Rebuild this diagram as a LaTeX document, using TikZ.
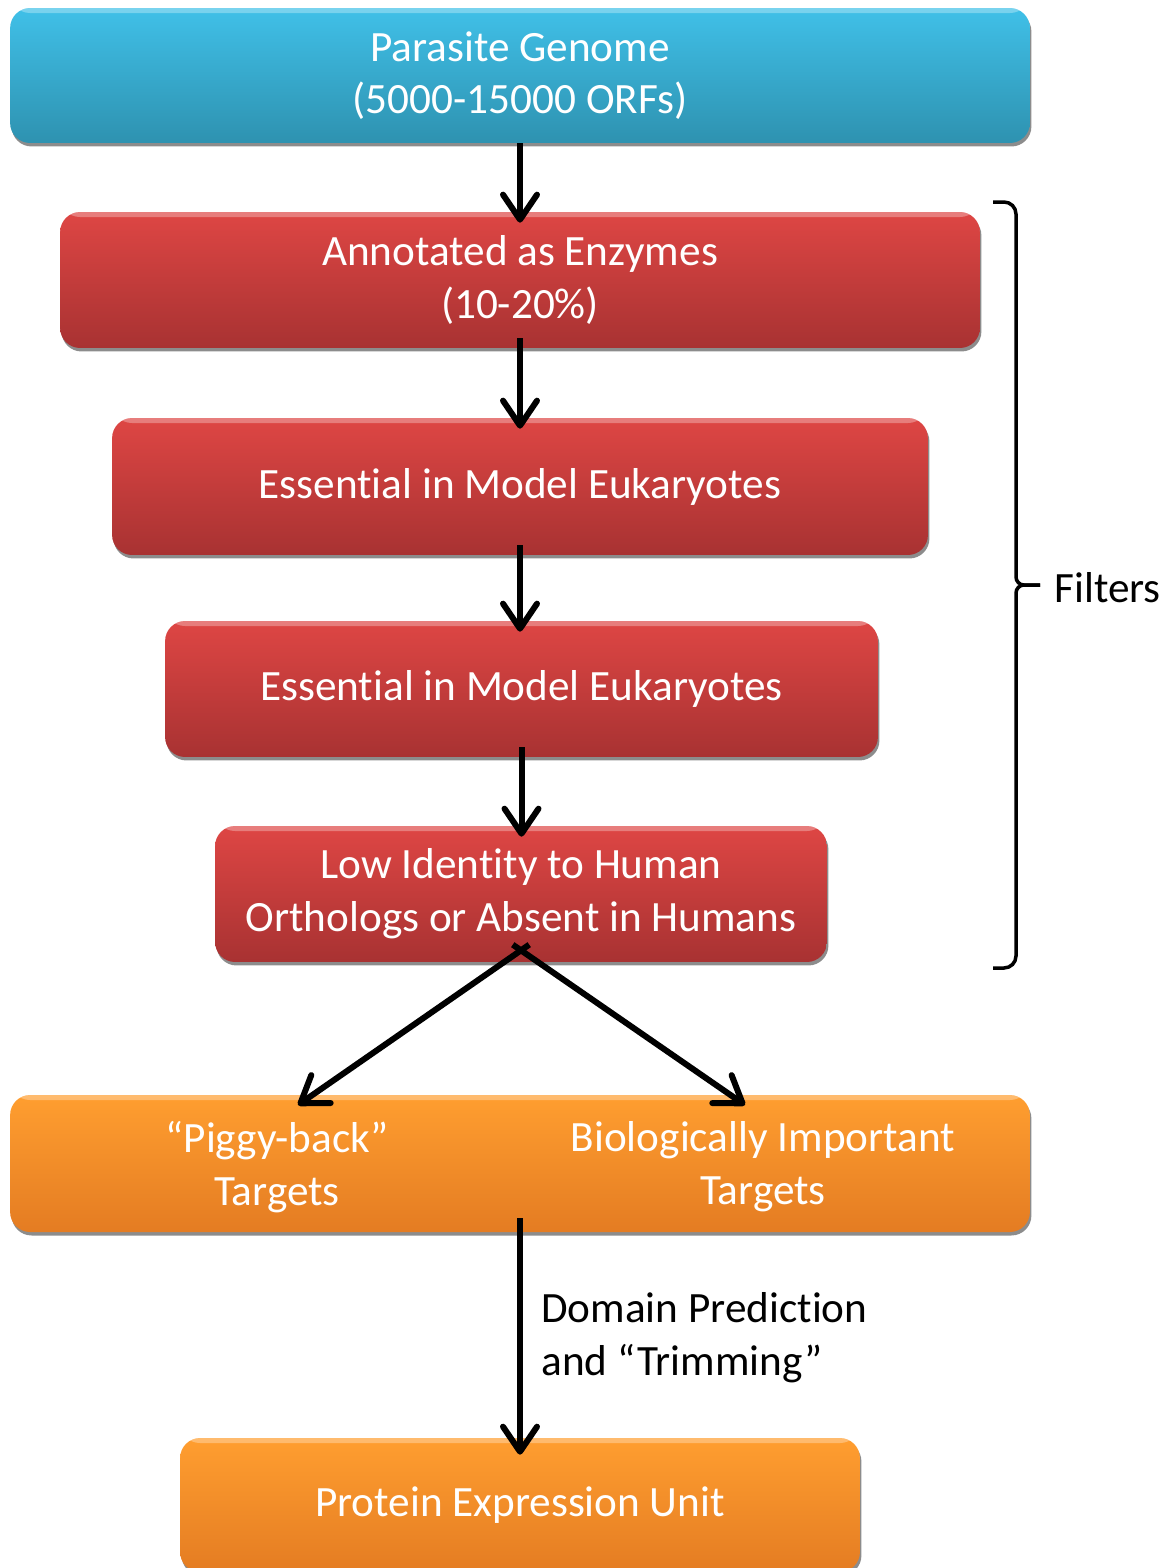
\documentclass[tikz,border=0pt]{standalone}
\usepackage{fontspec}
\setmainfont{Carlito}[RawFeature={-liga;-calt;-clig}]
\usetikzlibrary{arrows.meta,shadows}
\definecolor{skytop}{RGB}{64,192,232}
\definecolor{skybot}{RGB}{46,146,176}
\definecolor{redtop}{RGB}{222,70,68}
\definecolor{redbot}{RGB}{168,50,50}
\definecolor{ortop}{RGB}{255,158,48}
\definecolor{orbot}{RGB}{228,124,34}
\tikzset{
  stage/.style={rounded corners=0.4cm, minimum height=2.72cm, inner sep=0pt,
    align=center, text=white, font=\fontsize{24.6}{30}\selectfont,
    drop shadow={shadow xshift=0.03cm, shadow yshift=-0.07cm, opacity=0.6, fill=black!75},
    path picture={\fill[white, opacity=0.3] (path picture bounding box.north west)
      rectangle ([yshift=-0.1cm]path picture bounding box.north east);}},
  genome/.style={stage, top color=skytop, bottom color=skybot},
  filter/.style={stage, top color=redtop, bottom color=redbot},
  target/.style={stage, top color=ortop, bottom color=orbot},
  plain/.style={inner sep=0pt, align=center, font=\fontsize{24.6}{30}\selectfont},
  flow/.style={-{Straight Barb[length=0.5cm, width=0.68cm, round]}, line width=0.12cm,
    shorten <=-0.2cm, shorten >=-0.22cm}
}
\begin{document}
\begin{tikzpicture}[x=0.02cm, y=-0.02cm]
  \useasboundingbox (0,0) rectangle (1170,1568);
  \node[genome, minimum width=20.4cm, minimum height=2.7cm] (genome) at (520,75.5) {Parasite Genome\\(5000-15000 ORFs)};
  \node[filter, minimum width=18.4cm] (enz) at (520,280) {Annotated as Enzymes\\(10-20\%)};
  \node[filter, minimum width=16.32cm, minimum height=2.74cm] (ess1) at (520,486.5) {Essential in Model Eukaryotes};
  \node[filter, minimum width=14.26cm] (ess2) at (521.5,689) {Essential in Model Eukaryotes};
  \node[filter, minimum width=12.24cm] (low) at (521,894) {Low Identity to Human\\Orthologs or Absent in Humans};
  \node[target, minimum width=20.4cm, minimum height=2.74cm] (targets) at (520,1163.5) {};
  \node[plain, text=white] (piggy) at (277,1167) {“Piggy-back”\\Targets};
  \node[plain, text=white] (bio) at (763,1167) {Biologically Important\\Targets};
  \node[target, minimum width=13.6cm, minimum height=2.68cm] (unit) at (520,1505) {Protein Expression Unit};
  \node[plain, anchor=west, align=left] (domain) at (541,1338) {Domain Prediction\\and “Trimming”};
  \node[plain, anchor=west] (filters) at (1054,588) {Filters};
  \coordinate (pigtip) at (298,1105);
  \coordinate (biotip) at (745,1105);

  \draw[flow, shorten <=0pt] (genome.south) -- (genome.south |- enz.north);
  \draw[flow] (enz.south) -- (enz.south |- ess1.north);
  \draw[flow] (ess1.south) -- (ess1.south |- ess2.north);
  \draw[flow] (ess2.south) -- (ess2.south |- low.north);
  \draw[flow, shorten >=0pt] ([yshift=0.24cm]low.south) -- (pigtip);
  \draw[flow, shorten >=0pt] ([yshift=0.24cm]low.south) -- (biotip);
  \draw[flow, shorten <=-0.28cm, shorten >=-0.34cm] (targets.south) -- (unit.north);
  \draw[line width=0.07cm] (993,202) [rounded corners=0.24cm] -- (1016,202) [rounded corners=0.16cm] -- (1016,585) -- (1040,585);
  \draw[line width=0.07cm] (1040,585) [rounded corners=0.16cm] -- (1016,585) [rounded corners=0.24cm] -- (1016,968) -- (993,968);
\end{tikzpicture}
\end{document}
